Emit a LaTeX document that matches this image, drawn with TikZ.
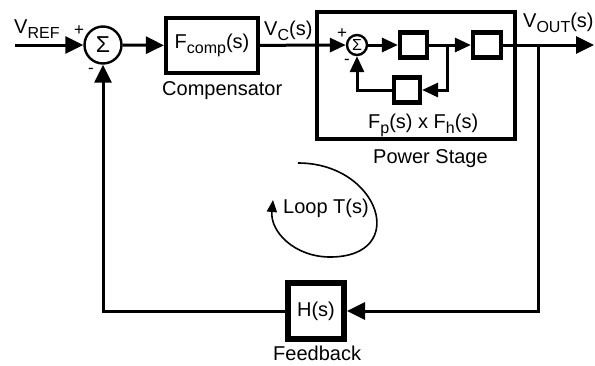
\documentclass[tikz,border=0pt]{standalone}
\usepackage{fontspec}
\setmainfont{Liberation Sans}
\usetikzlibrary{arrows.meta,positioning}
\newcommand{\lowtxt}[1]{\raisebox{-0.5ex}{\fontsize{16}{16}\selectfont #1}}

\begin{document}
\begin{tikzpicture}[x=1pt,y=-1pt,font=\fontsize{20}{22}\selectfont,
  sig/.style={line width=3pt},
  arr/.style={sig,-{Triangle[length=18pt,width=17pt]}},
  sarr/.style={sig,-{Triangle[length=16pt,width=14pt]}},
  blk/.style={draw,line width=4.2pt,inner sep=0pt},
  sumc/.style={draw,circle,line width=2.4pt,inner sep=0pt},
  sgn/.style={font=\fontsize{17}{17}\selectfont,inner sep=0pt},
  lbl/.style={anchor=base west,inner sep=0pt}]
\useasboundingbox (0,0) rectangle (595,365);
\node[sumc,minimum size=37pt,font=\fontsize{23}{23}\selectfont] (s1) at (103,45) {Σ};
\node[blk,minimum width=92pt,minimum height=55pt] (comp) at (212,45.5) {F\lowtxt{comp}(s)};
\node[blk,minimum width=198pt,minimum height=127pt] (ps) at (416,75.5) {};
\node[sumc,minimum size=20pt,font=\fontsize{16}{16}\selectfont] (s2) at (357,45) {Σ};
\node[blk,minimum width=27pt,minimum height=25pt] (b1) at (413.5,45) {};
\node[blk,minimum width=28pt,minimum height=25pt] (b2) at (487,45) {};
\node[blk,minimum width=26pt,minimum height=25pt] (b3) at (407,90) {};
\node[blk,line width=6pt,minimum width=56pt,minimum height=56pt] (hs) at (316,311) {H(s)};
\coordinate (vin) at (15,45);
\coordinate (br1) at (447,45);
\coordinate (br2) at (538,45);
\coordinate (vout) at (594,45);
\coordinate (lp1) at (298,163);
\coordinate (lp2) at (273,200);
\draw[arr] (vin) -- (s1);
\draw[arr] (s1) -- (comp);
\draw[sarr] (comp) -- (s2);
\draw[sarr] (s2) -- (b1);
\draw[sarr] (b1) -- (b2);
\draw[sarr] (br1) |- (b3);
\draw[sarr] (b3) -| (s2);
\draw[arr] (b2) -- (vout);
\draw[arr] (br2) |- (hs);
\draw[arr] (hs) -| (s1);
\draw[line width=1.6pt,-{Triangle[length=12pt,width=10pt]}] (lp1) .. controls (380,163) and (410,257) .. (330,257) .. controls (295,257) and (270,232) .. (lp2);
\node[lbl] (vref) at (14,33) {V\lowtxt{REF}};
\node[sgn] (p1) at (79,31) {+};
\node[sgn] (m1) at (91,71) {-};
\node[sgn] (p2) at (342,34) {+};
\node[sgn] (m2) at (347,62) {-};
\node[lbl] (vc) at (264,35) {V\lowtxt{C}(s)};
\node[lbl] (vo) at (523,27) {V\lowtxt{OUT}(s)};
\node[lbl] (fpfh) at (368,128) {F\lowtxt{p}(s) x F\lowtxt{h}(s)};
\node[lbl] (cmpl) at (162,95) {Compensator};
\node[lbl] (psl) at (373,163) {Power Stage};
\node[lbl] (fbl) at (273,360) {Feedback};
\node[lbl] (loop) at (283,213) {Loop T(s)};
\end{tikzpicture}
\end{document}
